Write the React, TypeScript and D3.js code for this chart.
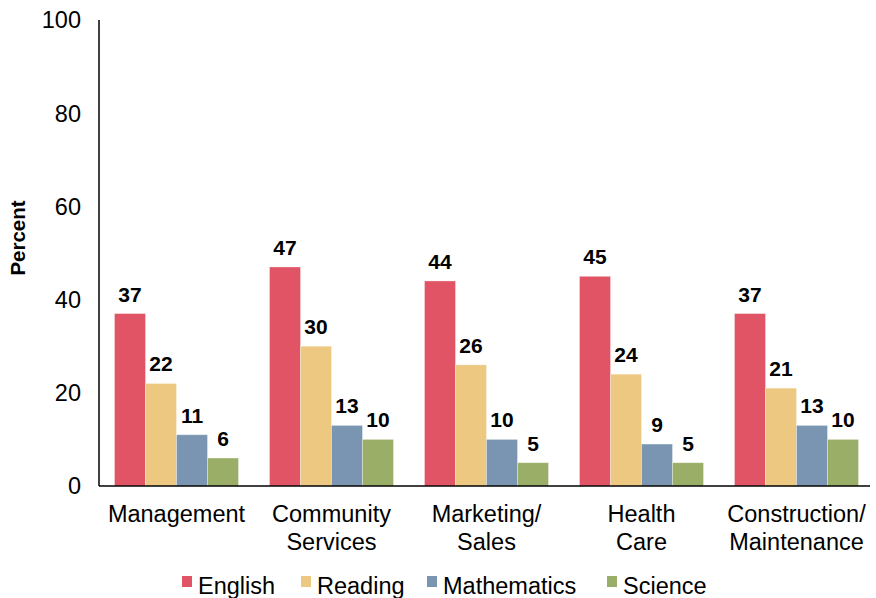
import React, { useEffect, useRef } from 'react';
import * as d3 from 'd3';

const categories = [
  ['Management'],
  ['Community', 'Services'],
  ['Marketing/', 'Sales'],
  ['Health', 'Care'],
  ['Construction/', 'Maintenance'],
];
const seriesNames = ['English', 'Reading', 'Mathematics', 'Science'];
const seriesColors = ['#e05465', '#ecc881', '#7a95b1', '#9aae67'];
const english = [37, 47, 44, 45, 37];
const reading = [22, 30, 26, 24, 21];
const mathematics = [11, 13, 10, 9, 13];
const science = [6, 10, 5, 5, 10];
const yTicks = [0, 20, 40, 60, 80, 100];

const FONT = '"Liberation Sans", Arial, Helvetica, sans-serif';

const App: React.FC = () => {
  const svgRef = useRef<SVGSVGElement>(null);
  const width = 876;
  const height = 598;

  useEffect(() => {
    if (!svgRef.current) return;
    const svg = d3.select(svgRef.current);
    svg.selectAll('*').remove();

    const left = 99;
    const right = 874;
    const top = 20;
    const bottom = 486;
    const values = [english, reading, mathematics, science];
    const keys = categories.map((_, i) => String(i));

    const x0 = d3.scaleBand().domain(keys).range([left, right]).paddingInner(0.2).paddingOuter(0.1);
    const x1 = d3.scaleBand().domain(seriesNames).range([0, x0.bandwidth()]);
    const y = d3.scaleLinear().domain([0, 100]).range([bottom, top]);

    // Bars + value labels
    categories.forEach((_, ci) => {
      const g = svg.append('g').attr('transform', `translate(${x0(String(ci))},0)`);
      seriesNames.forEach((name, si) => {
        const v = values[si][ci];
        g.append('rect')
          .attr('x', x1(name)!)
          .attr('y', y(v))
          .attr('width', x1.bandwidth())
          .attr('height', bottom - y(v))
          .attr('fill', seriesColors[si])
          .attr('stroke', '#ffffff')
          .attr('stroke-opacity', 0.4)
          .attr('stroke-width', 0.8);
        g.append('text')
          .attr('x', x1(name)! + x1.bandwidth() / 2)
          .attr('y', y(v) - 12)
          .attr('text-anchor', 'middle')
          .attr('font-family', FONT)
          .attr('font-weight', 'bold')
          .attr('font-size', 21)
          .attr('fill', '#000')
          .text(v);
      });
    });

    // Axes
    svg.append('line')
      .attr('x1', left).attr('x2', left)
      .attr('y1', top).attr('y2', bottom)
      .attr('stroke', '#000').attr('stroke-width', 1.5);
    svg.append('line')
      .attr('x1', left).attr('x2', right - 4)
      .attr('y1', bottom).attr('y2', bottom)
      .attr('stroke', '#000').attr('stroke-width', 1.5);

    yTicks.forEach(t => {
      svg.append('text')
        .attr('x', 81)
        .attr('y', y(t))
        .attr('dy', '0.36em')
        .attr('text-anchor', 'end')
        .attr('font-family', FONT)
        .attr('font-size', 23.5)
        .attr('fill', '#000')
        .text(t);
    });

    svg.append('text')
      .attr('transform', `translate(25,238) rotate(-90)`)
      .attr('text-anchor', 'middle')
      .attr('font-family', FONT)
      .attr('font-weight', 'bold')
      .attr('font-size', 20.5)
      .attr('fill', '#000')
      .text('Percent');

    // Category labels
    categories.forEach((lines, ci) => {
      const cx = x0(String(ci))! + x0.bandwidth() / 2;
      lines.forEach((line, li) => {
        svg.append('text')
          .attr('x', cx)
          .attr('y', 522 + li * 28)
          .attr('text-anchor', 'middle')
          .attr('font-family', FONT)
          .attr('font-size', 23.5)
          .attr('fill', '#000')
          .text(line);
      });
    });

    // Legend
    const legendX = [182, 301, 427, 607];
    seriesNames.forEach((name, i) => {
      svg.append('rect')
        .attr('x', legendX[i])
        .attr('y', 576)
        .attr('width', 10)
        .attr('height', 11)
        .attr('fill', seriesColors[i]);
      svg.append('text')
        .attr('x', legendX[i] + 16)
        .attr('y', 594)
        .attr('font-family', FONT)
        .attr('font-size', 23.5)
        .attr('fill', '#000')
        .text(name);
    });
  }, []);

  return (
    <svg ref={svgRef} width={width} height={height} style={{ position: 'absolute', left: 0, top: 0 }} />
  );
};

export default App;
